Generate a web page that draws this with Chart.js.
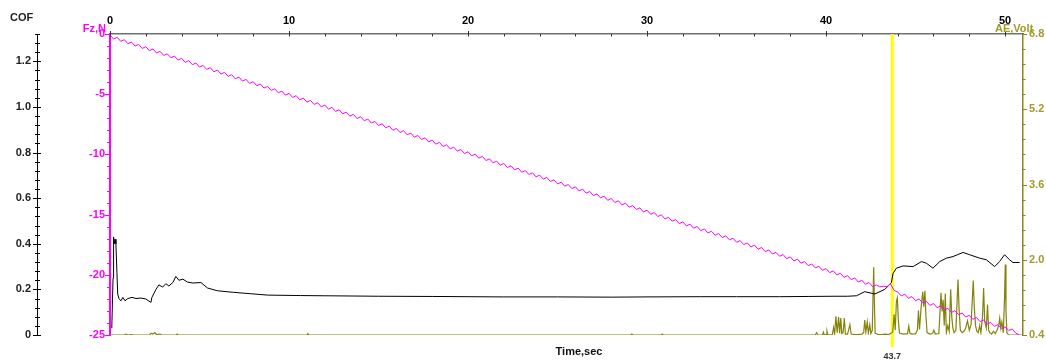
<!DOCTYPE html>
<html>
<head>
<meta charset="utf-8">
<script src="https://cdn.jsdelivr.net/npm/chart.js@4.4.1/dist/chart.umd.min.js"></script>
<style>
  html, body { margin: 0; padding: 0; background: #ffffff; }
  canvas { display: block; }
</style>
</head>
<body>
<canvas id="c" width="1046" height="363"></canvas>
<script>
// ---------------- DATA ----------------
// Top time axis
const timeLabels = [0, 10, 20, 30, 40, 50];
const markerTime = 43.7;

// Tick labels
const cofTickLabels = ['0', '0.2', '0.4', '0.6', '0.8', '1.0', '1.2'];
const fzTickLabels = ['-25', '-20', '-15', '-10', '-5', '0'];
const aeTickLabels = ['0.4', '2.0', '3.6', '5.2', '6.8'];

// COF (black)
const cofTime = [0.1, 0.17, 0.2, 0.24, 0.28, 0.33, 0.43, 0.5, 0.61, 0.72,
  0.84, 1.0, 1.23, 1.45, 1.73, 2.0, 2.29, 2.34, 2.57, 2.73,
  2.94, 3.12, 3.29, 3.51, 3.68, 3.85, 4.07, 4.33, 4.63, 5.08,
  5.45, 6.0, 6.9, 7.86, 8.8, 10.65, 12, 15, 18, 20,
  22, 25, 28, 30, 33, 35, 37.4, 39, 40.5, 41.2,
  41.7, 42.16, 42.72, 43.28, 43.65, 43.74, 43.93, 44.3, 44.86, 45.33,
  45.6, 45.97, 46.35, 46.72, 47.09, 47.65, 48.02, 48.58, 48.95, 49.42,
  49.69, 49.97, 50.25, 50.44, 50.81];
const cofValue = [0.03, 0.25, 0.43, 0.40, 0.42, 0.40, 0.18, 0.16, 0.15, 0.165,
  0.15, 0.16, 0.165, 0.16, 0.162, 0.158, 0.143, 0.165, 0.2, 0.22,
  0.21, 0.225, 0.215, 0.23, 0.257, 0.24, 0.245, 0.232, 0.228, 0.23,
  0.206, 0.194, 0.187, 0.181, 0.175, 0.173, 0.172, 0.17, 0.169, 0.168,
  0.167, 0.167, 0.166, 0.167, 0.168, 0.168, 0.168, 0.169, 0.17, 0.17,
  0.172, 0.19, 0.18, 0.2, 0.23, 0.27, 0.293, 0.303, 0.30, 0.322,
  0.315, 0.293, 0.322, 0.337, 0.344, 0.362, 0.352, 0.337, 0.33, 0.30,
  0.322, 0.352, 0.33, 0.318, 0.318];

// Fz (magenta), sampled every 0.2 s from t = 0
const fzStep = 0.2;
const fzValue = [
  -0.08, -0.42, -0.27, -0.61, -0.47,
  -0.81, -0.67, -1.00, -0.86, -1.20,
  -1.05, -1.39, -1.24, -1.58, -1.44,
  -1.78, -1.64, -1.97, -1.83, -2.17,
  -2.02, -2.36, -2.21, -2.55, -2.41,
  -2.75, -2.61, -2.94, -2.80, -3.14,
  -2.99, -3.33, -3.18, -3.52, -3.38,
  -3.72, -3.58, -3.91, -3.77, -4.11,
  -3.96, -4.30, -4.15, -4.49, -4.35,
  -4.69, -4.55, -4.88, -4.74, -5.08,
  -4.93, -5.27, -5.12, -5.46, -5.32,
  -5.66, -5.52, -5.85, -5.71, -6.05,
  -5.90, -6.24, -6.09, -6.43, -6.29,
  -6.63, -6.49, -6.82, -6.68, -7.02,
  -6.87, -7.21, -7.06, -7.40, -7.26,
  -7.60, -7.46, -7.79, -7.65, -7.99,
  -7.84, -8.18, -8.03, -8.37, -8.23,
  -8.57, -8.43, -8.76, -8.62, -8.96,
  -8.81, -9.15, -9.00, -9.34, -9.20,
  -9.54, -9.40, -9.73, -9.59, -9.93,
  -9.78, -10.12, -9.97, -10.31, -10.17,
  -10.51, -10.37, -10.70, -10.56, -10.90,
  -10.75, -11.09, -10.94, -11.28, -11.14,
  -11.48, -11.34, -11.67, -11.53, -11.87,
  -11.72, -12.06, -11.91, -12.25, -12.11,
  -12.45, -12.31, -12.64, -12.50, -12.84,
  -12.69, -13.03, -12.88, -13.22, -13.08,
  -13.42, -13.28, -13.61, -13.47, -13.81,
  -13.66, -14.00, -13.85, -14.19, -14.05,
  -14.39, -14.25, -14.58, -14.44, -14.78,
  -14.63, -14.97, -14.82, -15.16, -15.02,
  -15.36, -15.22, -15.55, -15.41, -15.75,
  -15.60, -15.94, -15.79, -16.13, -15.99,
  -16.33, -16.19, -16.52, -16.38, -16.72,
  -16.57, -16.91, -16.76, -17.10, -16.96,
  -17.30, -17.16, -17.49, -17.35, -17.69,
  -17.54, -17.88, -17.73, -18.07, -17.93,
  -18.27, -18.13, -18.46, -18.32, -18.66,
  -18.51, -18.85, -18.70, -19.04, -18.90,
  -19.24, -19.10, -19.43, -19.29, -19.63,
  -19.48, -19.82, -19.67, -20.01, -19.87,
  -20.21, -20.07, -20.40, -20.26, -20.60,
  -20.45, -20.79, -20.64, -20.98, -20.84,
  -21.00, -20.95, -20.98, -20.75, -21.30,
  -21.42, -21.76, -21.61, -21.95, -21.81,
  -22.15, -22.01, -22.34, -22.20, -22.54,
  -22.39, -22.73, -22.58, -22.92, -22.78,
  -23.12, -22.98, -23.31, -23.17, -23.51,
  -23.36, -23.70, -23.55, -23.89, -23.75,
  -24.09, -23.95, -24.28, -24.14, -24.48,
  -24.33, -24.62, -24.50, -24.85, -24.98
];

// AE (olive)
const aeTime = [0, 0.8, 0.9, 1.0, 1.2, 1.3, 2.2, 2.3, 2.4, 2.5,
  2.6, 2.8, 2.9, 3.7, 3.75, 3.8, 11.0, 11.05, 11.1, 29.1,
  29.15, 29.2, 30.8, 30.85, 30.9, 39.4, 39.47, 39.55, 39.8, 39.85,
  39.9, 40.0, 40.05, 40.1, 40.35, 40.42, 40.48, 40.55, 40.62, 40.7,
  40.76, 40.82, 40.88, 40.95, 41.02, 41.08, 41.2, 41.33, 41.4, 41.6,
  41.8, 42.0, 42.1, 42.16, 42.22, 42.3, 42.36, 42.44, 42.5, 42.58,
  42.66, 42.7, 42.74, 42.9, 43.1, 43.3, 43.5, 43.72, 43.8, 43.86,
  43.93, 43.98, 44.04, 44.1, 44.3, 44.55, 44.62, 44.68, 44.8, 45.0,
  45.1, 45.16, 45.22, 45.3, 45.4, 45.46, 45.52, 45.58, 45.64, 45.8,
  45.95, 46.02, 46.1, 46.3, 46.42, 46.48, 46.54, 46.6, 46.66, 46.72,
  46.8, 46.88, 46.96, 47.02, 47.08, 47.15, 47.25, 47.37, 47.43, 47.5,
  47.6, 47.7, 47.8, 47.9, 48.0, 48.1, 48.22, 48.28, 48.35, 48.42,
  48.5, 48.58, 48.65, 48.74, 48.8, 48.86, 48.95, 49.02, 49.08, 49.15,
  49.25, 49.35, 49.45, 49.55, 49.65, 49.7, 49.76, 49.82, 49.9, 49.97,
  50.01, 50.05, 50.1, 50.2, 51];
const aeVolt = [0.4, 0.4, 0.42, 0.4, 0.41, 0.4, 0.4, 0.44, 0.42, 0.45,
  0.41, 0.42, 0.4, 0.4, 0.42, 0.4, 0.4, 0.43, 0.4, 0.4,
  0.42, 0.4, 0.4, 0.42, 0.4, 0.4, 0.45, 0.4, 0.4, 0.46,
  0.4, 0.41, 0.48, 0.4, 0.41, 0.56, 0.42, 0.8, 0.45, 0.78,
  0.44, 0.76, 0.43, 0.45, 0.76, 0.42, 0.42, 0.62, 0.42, 0.41,
  0.41, 0.42, 0.45, 0.72, 0.46, 0.68, 0.44, 0.62, 0.43, 0.5,
  1.84, 1.1, 0.44, 0.41, 0.41, 0.42, 0.41, 0.46, 0.84, 0.5,
  1.12, 1.19, 0.7, 0.44, 0.42, 0.43, 0.59, 0.44, 0.42, 0.43,
  0.5, 0.92, 0.52, 0.95, 1.32, 1.0, 1.34, 0.8, 0.45, 0.42,
  0.43, 0.5, 0.42, 0.43, 1.3, 0.9, 1.15, 0.6, 1.28, 0.45,
  0.6, 0.48, 1.37, 0.8, 0.55, 0.45, 0.5, 1.58, 0.95, 0.5,
  0.45, 0.48, 0.55, 0.7, 0.5, 0.62, 1.56, 0.98, 0.6, 0.48,
  0.45, 0.6, 0.45, 0.8, 1.4, 0.7, 0.55, 1.05, 0.5, 0.45,
  0.42, 0.48, 0.43, 0.5, 0.62, 0.76, 0.55, 0.68, 0.45, 1.2,
  1.9, 0.9, 0.45, 0.4, 0.4];

// ---------------- STYLE ----------------
const MAGENTA = '#ff00ff';
const OLIVE_LINE = '#84840c';
const OLIVE_AXIS = '#8a861c';
const OLIVE_TEXT = '#a39a2c';
const FONT = '"Liberation Sans", Arial, sans-serif';

Chart.defaults.font.family = FONT;

const near = (a, b) => Math.abs(a - b) < 1e-6;
const isStep = (v, base, step) => near((v - base) / step, Math.round((v - base) / step));

const cofData = cofTime.map((t, i) => ({ x: t, y: cofValue[i] }));
const fzData = fzValue.map((v, i) => ({ x: Math.round(i * fzStep * 100) / 100, y: v }));
const aeData = aeTime.map((t, i) => ({ x: t, y: aeVolt[i] }));

const tickFont = { family: FONT, size: 11, weight: 'bold' };

const decor = {
  id: 'decor',
  beforeDatasetsDraw(chart) {
    const { ctx, chartArea, scales } = chart;
    const x = scales.x.getPixelForValue(markerTime);
    ctx.save();
    ctx.strokeStyle = '#ffff00';
    ctx.lineWidth = 3;
    ctx.beginPath();
    ctx.moveTo(x, chartArea.top);
    ctx.lineTo(x, chartArea.bottom + 12);
    ctx.stroke();
    ctx.restore();
  },
  afterDraw(chart) {
    const { ctx, chartArea, scales } = chart;
    ctx.save();
    const line = (x1, y1, x2, y2, color, w) => {
      ctx.strokeStyle = color; ctx.lineWidth = w || 1;
      ctx.beginPath(); ctx.moveTo(x1, y1); ctx.lineTo(x2, y2); ctx.stroke();
    };
    // top time axis ticks
    const top = chartArea.top;
    scales.x.ticks.forEach(t => {
      if (!isStep(t.value, 0, 2)) return;
      const p = Math.round(scales.x.getPixelForValue(t.value)) + 0.5;
      if (isStep(t.value, 0, 10)) line(p, top - 3, p, top + 2.5, '#333', 1);
      else line(p, top, p, top + 2.5, '#333', 1);
    });
    // COF ticks (cross the axis)
    const cx = scales.yCOF.right;
    scales.yCOF.ticks.forEach(t => {
      const p = Math.round(scales.yCOF.getPixelForValue(t.value)) + 0.5;
      if (isStep(t.value, 0, 0.2)) line(cx - 4, p, cx + 4, p, '#000', 1);
      else line(cx - 2, p, cx + 3, p, '#000', 1);
    });
    // Fz ticks (outward)
    const fx = chartArea.left;
    scales.yFz.ticks.forEach(t => {
      const p = Math.round(scales.yFz.getPixelForValue(t.value)) + 0.5;
      if (isStep(t.value, 0, 5)) line(fx - 5, p, fx, p, MAGENTA, 1);
      else line(fx - 3, p, fx, p, MAGENTA, 1);
    });
    // AE ticks (outward)
    const ax = chartArea.right;
    scales.yAE.ticks.forEach(t => {
      const p = Math.round(scales.yAE.getPixelForValue(t.value)) + 0.5;
      if (isStep(t.value, 0.4, 1.6)) line(ax, p, ax + 4, p, OLIVE_AXIS, 1);
      else line(ax, p, ax + 2.5, p, OLIVE_AXIS, 1);
    });
    // Axis titles
    ctx.textBaseline = 'middle';
    ctx.font = 'bold 11px ' + FONT;
    ctx.fillStyle = '#222';
    ctx.textAlign = 'left';
    ctx.fillText('COF', 10, 18);
    ctx.fillStyle = MAGENTA;
    ctx.textAlign = 'right';
    ctx.fillText('Fz,N', 106, 29);
    ctx.fillStyle = OLIVE_TEXT;
    ctx.textAlign = 'left';
    ctx.fillText('AE,Volt', 995, 29);
    ctx.fillStyle = '#111';
    ctx.textAlign = 'center';
    ctx.fillText('Time,sec', scales.x.getPixelForValue(26.2), 352);
    // marker label
    ctx.font = 'bold 9px ' + FONT;
    ctx.fillStyle = '#333';
    ctx.fillText(String(markerTime), scales.x.getPixelForValue(markerTime), 357);
    ctx.restore();
  }
};

new Chart(document.getElementById('c'), {
  type: 'line',
  data: {
    datasets: [
      { label: 'Fz,N', data: fzData, yAxisID: 'yFz', borderColor: MAGENTA, borderWidth: 1, pointRadius: 0, tension: 0, order: 0 },
      { label: 'COF', data: cofData, yAxisID: 'yCOF', borderColor: '#000000', borderWidth: 1, pointRadius: 0, tension: 0, order: 1 },
      { label: 'AE,Volt', data: aeData, yAxisID: 'yAE', borderColor: OLIVE_LINE, borderWidth: 1.2, pointRadius: 0, tension: 0, order: 2 }
    ]
  },
  options: {
    responsive: false,
    devicePixelRatio: 1,
    animation: false,
    events: [],
    layout: { padding: { left: 0, right: 0, top: 0, bottom: 28 } },
    plugins: { legend: { display: false }, tooltip: { enabled: false } },
    scales: {
      x: {
        type: 'linear', position: 'top', min: 0, max: 51,
        grid: { display: false, drawTicks: false },
        border: { display: true, color: '#707070', width: 1.5 },
        ticks: {
          stepSize: 2, includeBounds: false, autoSkip: false, maxRotation: 0, padding: 6,
          color: '#000', font: tickFont,
          callback: v => (timeLabels.includes(v) ? String(v) : '')
        },
        afterFit: s => { s.height = 34; }
      },
      yCOF: {
        type: 'linear', position: 'left', weight: 2, min: 0, max: 1.32,
        grid: { display: false, drawTicks: false },
        border: { display: true, color: '#000', width: 1 },
        ticks: {
          stepSize: 0.04, autoSkip: false, padding: 6, color: '#222', font: tickFont,
          callback: v => {
            if (!isStep(v, 0, 0.2)) return '';
            return cofTickLabels[Math.round(v / 0.2)];
          }
        },
        afterFit: s => { s.width = 37; }
      },
      yFz: {
        type: 'linear', position: 'left', weight: 1, min: -25, max: 0,
        grid: { display: false, drawTicks: false },
        border: { display: true, color: MAGENTA, width: 2 },
        ticks: {
          stepSize: 1, autoSkip: false, padding: 5, color: MAGENTA, font: tickFont,
          callback: v => {
            if (!isStep(v, 0, 5)) return '';
            return fzTickLabels[Math.round((v + 25) / 5)];
          }
        },
        afterFit: s => { s.width = 73; }
      },
      yAE: {
        type: 'linear', position: 'right', min: 0.4, max: 6.8,
        grid: { display: false, drawTicks: false },
        border: { display: true, color: OLIVE_AXIS, width: 1.5 },
        ticks: {
          stepSize: 0.32, autoSkip: false, padding: 6, color: OLIVE_TEXT, font: tickFont,
          callback: v => {
            if (!isStep(v, 0.4, 1.6)) return '';
            return aeTickLabels[Math.round((v - 0.4) / 1.6)];
          }
        },
        afterFit: s => { s.width = 23; }
      }
    }
  },
  plugins: [decor]
});
</script>
</body>
</html>
